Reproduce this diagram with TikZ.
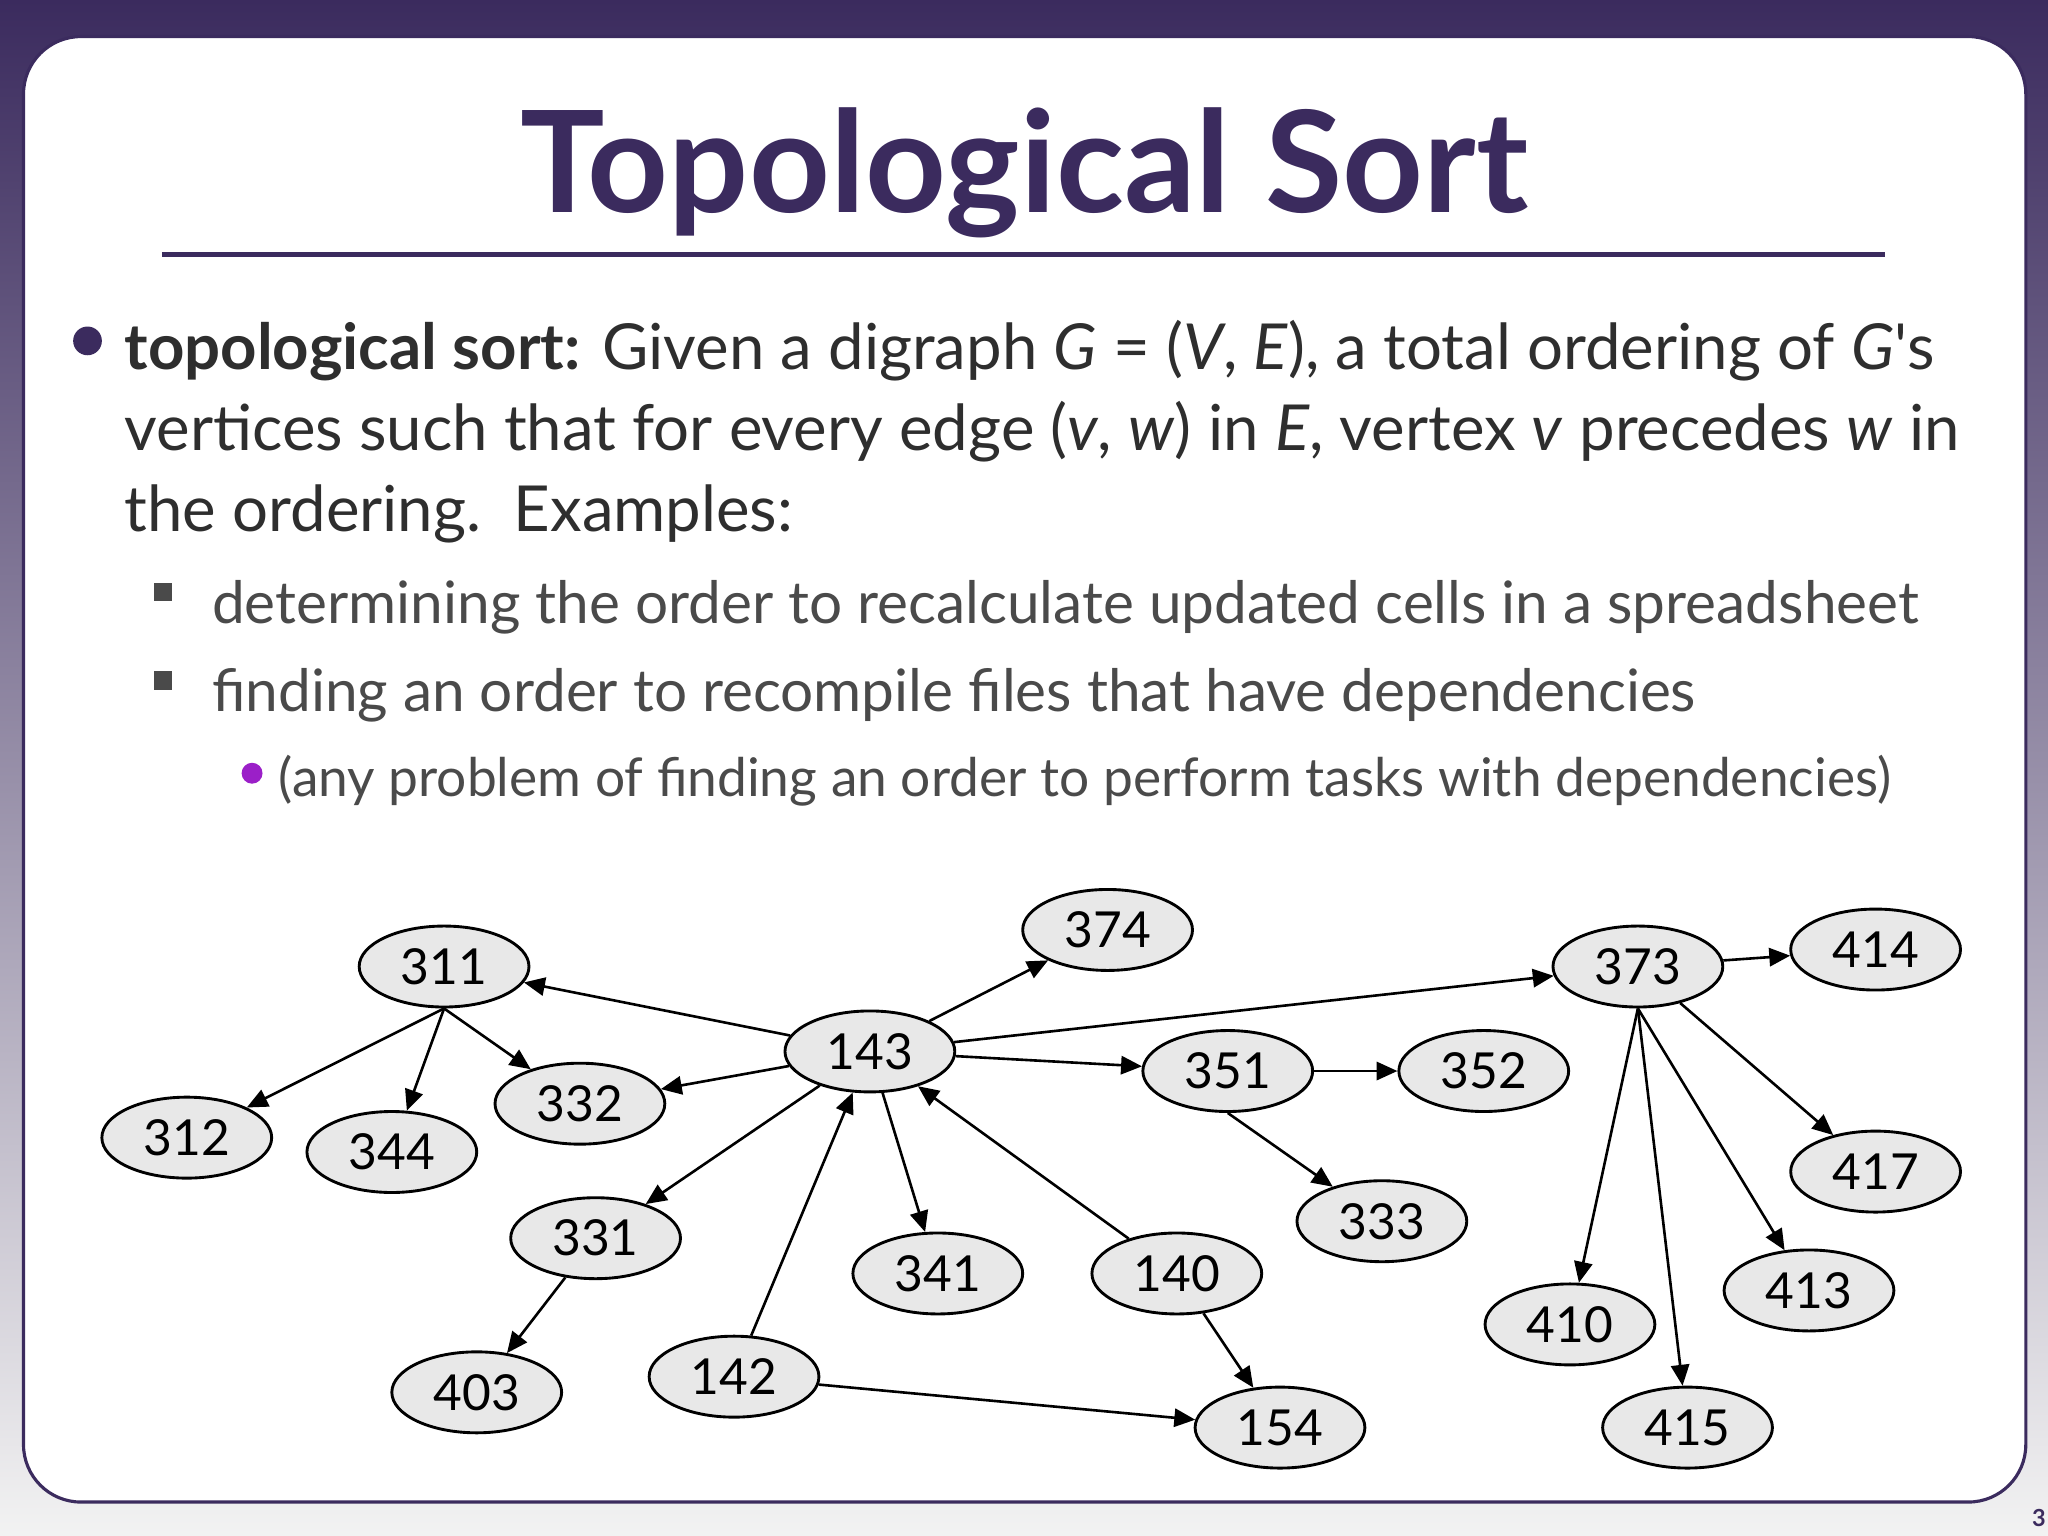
\documentclass[tikz,border=0pt]{standalone}
\usepackage{fontspec}
\setmainfont{Lato}
\newfontfamily\plainlato{Lato}
\usetikzlibrary{shapes.geometric,arrows.meta}
\definecolor{dpurp}{HTML}{3B2B5E}
\definecolor{txt}{HTML}{2E2E2E}
\definecolor{sub}{HTML}{4A4A4A}
\definecolor{bul}{HTML}{9B1FC8}
\tikzset{vx/.style={ellipse,draw=black,line width=1.1pt,fill=gray!18,minimum width=65pt,minimum height=31pt,inner sep=0pt,font=\fontsize{19}{19}\selectfont},
 ed/.style={-{Triangle[length=8pt,width=7pt]},line width=1pt},
 ln/.style={anchor=base west,inner sep=0pt}}
\begin{document}
\begin{tikzpicture}[x=0.5pt,y=-0.5pt]
\useasboundingbox (0,0) rectangle (1568,1176);
\shade[top color=dpurp,bottom color=gray!10] (0,0) rectangle (1568,1176);
\draw[fill=white,draw=dpurp,line width=1.2pt,rounded corners=22pt] (18,28) rectangle (1551,1150);
\node[anchor=base,inner sep=0pt,text=dpurp,font=\fontsize{54}{54}\selectfont\bfseries] (title) at (784,163) {Topological Sort};
\draw[dpurp,line width=2pt] (124,195) -- (1443,195);
\fill[dpurp] (67,261) circle (5.5pt);
\node[ln,text=txt,font=\fontsize{24.3}{24.3}\selectfont] (l1) at (95,283) {\textbf{topological sort:} Given a digraph \textit{G} = (\textit{V}, \textit{E}), a total ordering of \textit{G}{\plainlato'}s};
\node[ln,text=txt,font=\fontsize{24.3}{24.3}\selectfont] (l2) at (95,345) {vertices such that for every edge (\textit{v}, \textit{w}) in \textit{E}, vertex \textit{v} precedes \textit{w} in};
\node[ln,text=txt,font=\fontsize{24.3}{24.3}\selectfont] (l3) at (95,407) {the ordering.\ \ Examples:};
\fill[sub] (118,446) rectangle (132,460);
\fill[sub] (118,514) rectangle (132,528);
\node[ln,text=sub,font=\fontsize{22.4}{22.4}\selectfont] (s1) at (162,477) {determining the order to recalculate updated cells in a spreadsheet};
\node[ln,text=sub,font=\fontsize{22.4}{22.4}\selectfont] (s2) at (162,545) {finding an order to recompile files that have dependencies};
\fill[bul] (193,592) circle (4pt);
\node[ln,text=sub,font=\fontsize{20.4}{20.4}\selectfont] (s3) at (213,610) {(any problem of finding an order to perform tasks with dependencies)};
\node[font=\bfseries\fontsize{9}{9}\selectfont,text=dpurp] (pg) at (1561,1162) {3};
\foreach \n/\x/\y in {311/340/740,312/143/871,344/300/882,332/444/845,143/666/805,374/848/712,373/1254/740,414/1436/727,351/940/820,352/1136/820,333/1058/935,417/1436/897,331/456/948,341/718/975,140/901/975,413/1385/988,410/1202/1014,403/365/1066,142/562/1054,154/980/1093,415/1292/1093}
  \node[vx] (n\n) at (\x,\y) {\n};
\foreach \a/\b in {143/311,143/332,143/374,143/373,143/351,351/352,143/331,143/341,140/143,140/154,331/403,142/143,142/154,373/414,373/417}
  \draw[ed] (n\a) -- (n\b);
\foreach \a/\b in {311/312,311/344,311/332,351/333,373/410,373/415,373/413}
  \draw[ed] (n\a.south) -- (n\b);
\end{tikzpicture}
\end{document}
